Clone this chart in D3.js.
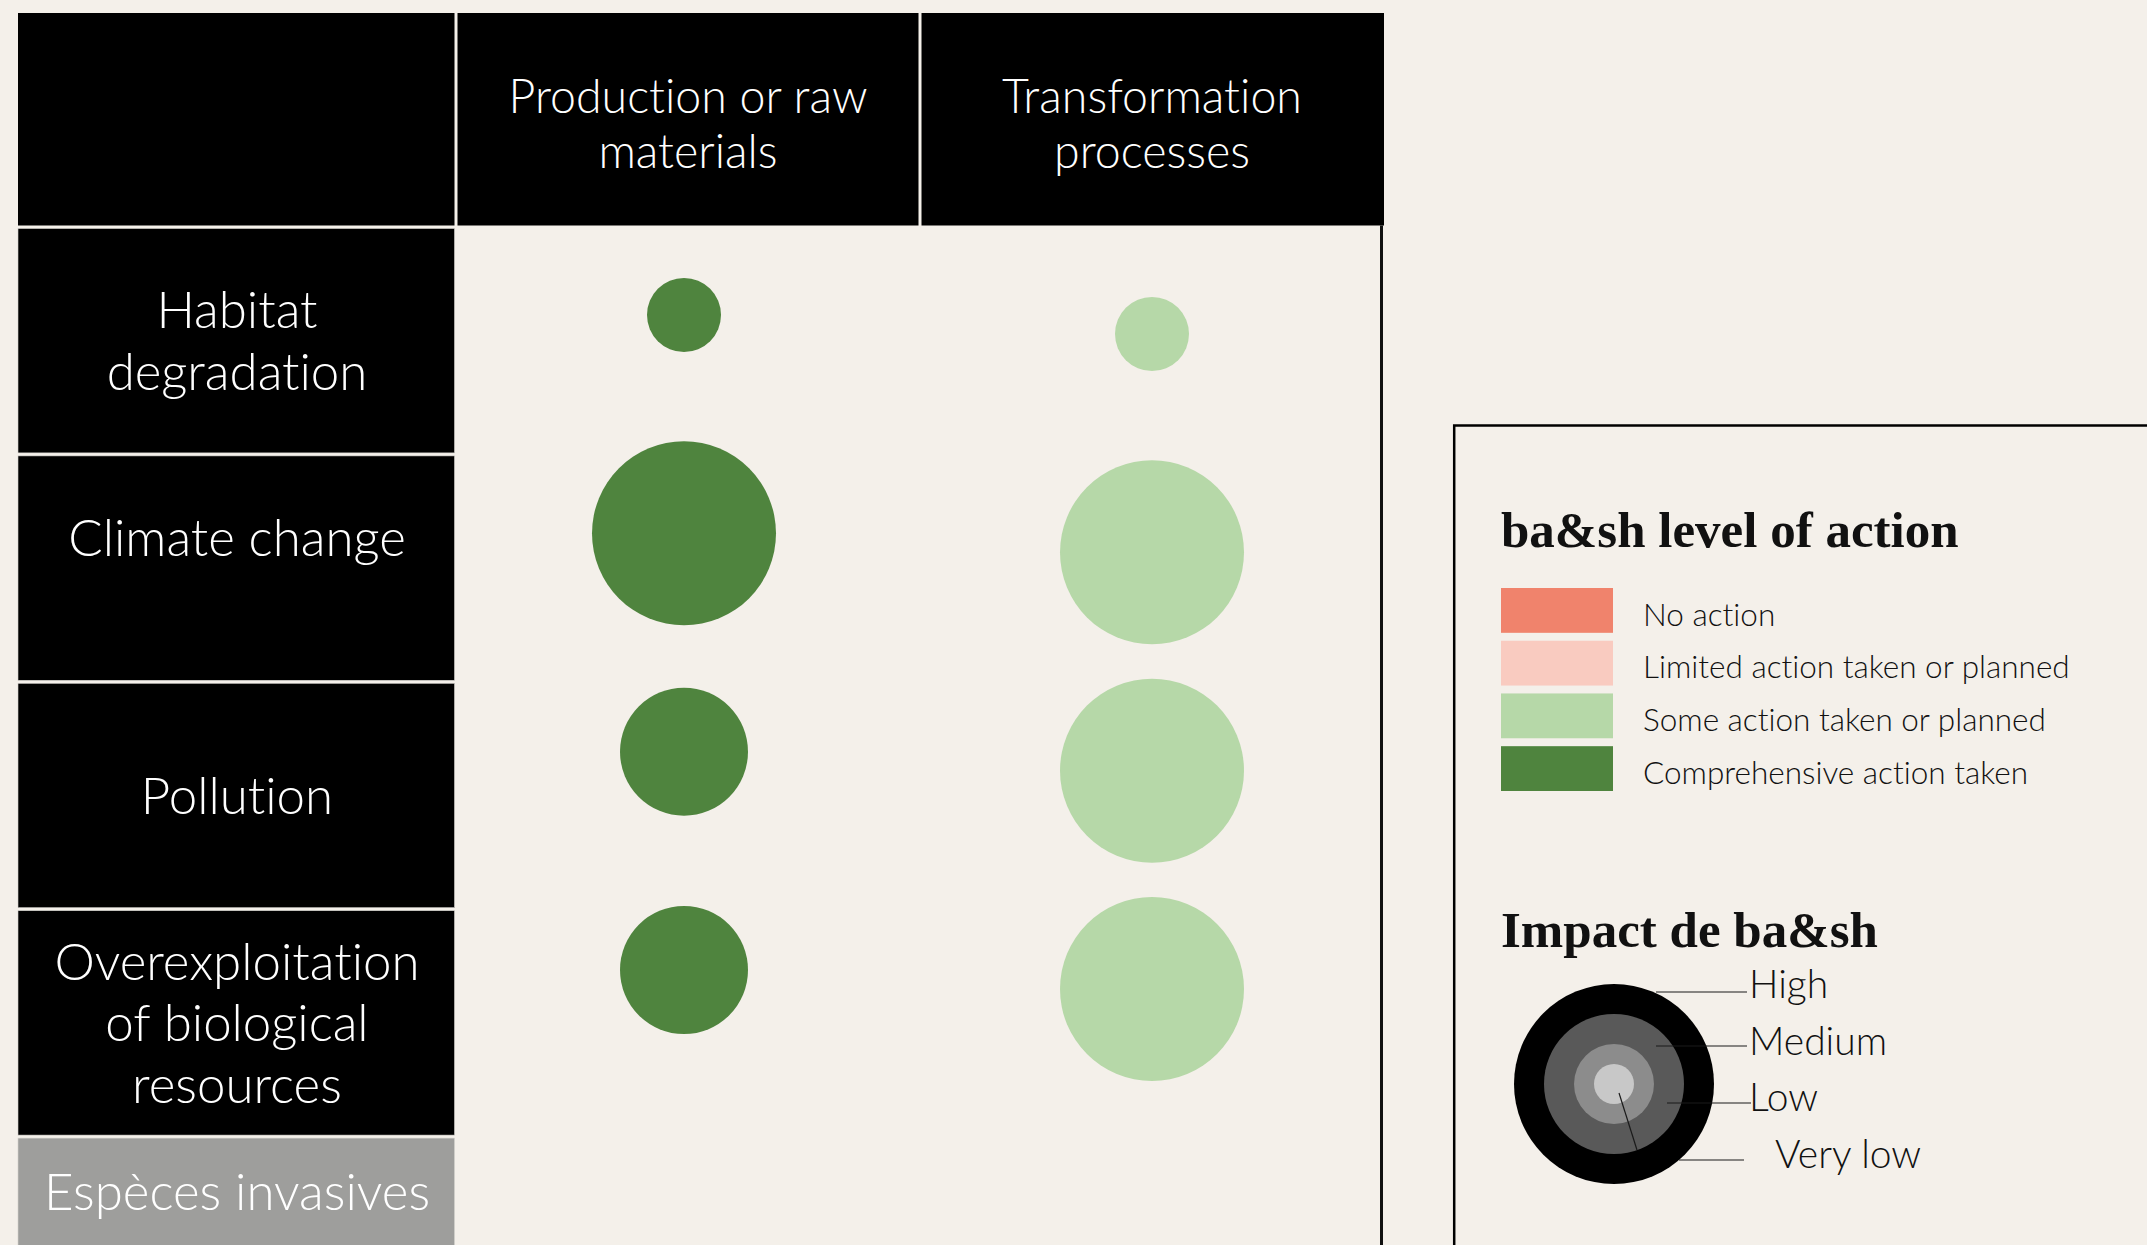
<!DOCTYPE html>
<html>
<head>
<meta charset="utf-8">
<script src="https://cdn.jsdelivr.net/npm/d3@7"></script>
<style>
  html, body { margin: 0; padding: 0; background: #f4f0ea; overflow: hidden; }
  svg { display: block; }
  .light { font-family: Lato, "Open Sans", sans-serif; font-weight: 300; font-variant-ligatures: none; font-feature-settings: "liga" 0; }
  .serif { font-family: "Liberation Serif", "DejaVu Serif", serif; font-weight: 700; }
</style>
</head>
<body>
<div class="threat-matrix"></div>
<script>
// value chain stages (columns) and threats (rows)
var stages = ["Production or raw materials", "Transformation processes"];
var stageLines = [["Production or raw", "materials"], ["Transformation", "processes"]];

var threats = [
    "Habitat degradation",
    "Climate change",
    "Pollution",
    "Overexploitation of biological resources",
    "Espèces invasives"
];
var threatLines = [
    ["Habitat", "degradation"],
    ["Climate change", ""],
    ["Pollution"],
    ["Overexploitation", "of biological", "resources"],
    ["Espèces invasives"]
];

// level of action and impact per threat, one array per stage (null = not assessed)
var productionAction = ["Comprehensive action taken", "Comprehensive action taken", "Comprehensive action taken", "Comprehensive action taken", null];
var productionImpact = ["Low", "High", "Medium", "Medium", null];
var transformationAction = ["Some action taken or planned", "Some action taken or planned", "Some action taken or planned", "Some action taken or planned", null];
var transformationImpact = ["Low", "High", "High", "High", null];

var actionLevels = ["No action", "Limited action taken or planned", "Some action taken or planned", "Comprehensive action taken"];
var impactLevels = ["High", "Medium", "Low", "Very low"];

(function() {
    var width = 2147, height = 1245;
    var bg = "#f4f0ea";

    var svg = d3.select(".threat-matrix").append("svg")
        .attr("width", width)
        .attr("height", height);

    svg.append("rect")
        .attr("width", width)
        .attr("height", height)
        .attr("fill", bg);

    var actionColor = d3.scaleOrdinal()
        .domain(actionLevels)
        .range(["#f0836c", "#f9cbc0", "#b6d8a8", "#4f843e"]);

    var impactRadius = d3.scaleOrdinal()
        .domain(["Very low", "Low", "Medium", "High"])
        .range([18, 37, 64, 92]);

    // table geometry
    var tableLeft = 18, labelRight = 456, tableRight = 1384;
    var headTop = 13, headBottom = 227;
    var rowHeight = 227.4, gap = 3;

    var colX = d3.scaleBand().domain(stages).range([labelRight, tableRight]);
    var rowY = d3.scaleBand().domain(threats).range([headBottom, headBottom + threats.length * rowHeight]);

    var table = svg.append("g").classed("table", true);

    // header row
    table.append("rect")
        .attr("x", tableLeft)
        .attr("y", headTop)
        .attr("width", labelRight - tableLeft - gap / 2)
        .attr("height", headBottom - headTop - gap / 2)
        .attr("fill", "#000");

    var heads = table.selectAll(".head")
        .data(stages)
        .enter()
        .append("g")
            .classed("head", true);

    heads.append("rect")
        .attr("x", function(d) { return colX(d) + gap / 2; })
        .attr("y", headTop)
        .attr("width", function(d, i) { return colX.bandwidth() - (i == stages.length - 1 ? gap / 2 : gap); })
        .attr("height", headBottom - headTop - gap / 2)
        .attr("fill", "#000");

    function multiline(sel, lines, cx, cy, size, lh) {
        var n = lines.length;
        lines.forEach(function(line, i) {
            sel.append("text")
                .attr("class", "light")
                .attr("x", cx)
                .attr("y", cy + (i - (n - 1) / 2) * lh + size * 0.36)
                .attr("text-anchor", "middle")
                .attr("font-size", size)
                .attr("fill", "#fff")
                .text(line);
        });
    }

    heads.each(function(d, i) {
        multiline(d3.select(this), stageLines[i], colX(d) + colX.bandwidth() / 2, (headTop + headBottom) / 2 + 4, 46.5, 55);
    });

    // row header cells
    var rows = table.selectAll(".row")
        .data(threats)
        .enter()
        .append("g")
            .classed("row", true);

    rows.append("rect")
        .attr("x", tableLeft)
        .attr("y", function(d) { return rowY(d) + gap / 2; })
        .attr("width", labelRight - tableLeft - gap / 2)
        .attr("height", rowY.bandwidth() - gap)
        .attr("fill", function(d, i) { return productionAction[i] ? "#000" : "#9e9e9c"; })
        .attr("stroke", "#d4d2ce")
        .attr("stroke-width", 0.6);

    rows.each(function(d, i) {
        var top = rowY(d) + gap / 2;
        var bottom = Math.min(rowY(d) + rowY.bandwidth() - gap / 2, height);
        multiline(d3.select(this), threatLines[i], (tableLeft + labelRight) / 2, (top + bottom) / 2, 51, 61.4);
    });

    // right border of the matrix
    table.append("line")
        .attr("x1", tableRight - 2.5)
        .attr("x2", tableRight - 2.5)
        .attr("y1", headBottom - gap / 2)
        .attr("y2", height)
        .attr("stroke", "#111")
        .attr("stroke-width", 3);

    // bubbles
    var cells = [];
    threats.forEach(function(t, i) {
        if (productionAction[i]) cells.push({threat: t, stage: stages[0], action: productionAction[i], impact: productionImpact[i]});
        if (transformationAction[i]) cells.push({threat: t, stage: stages[1], action: transformationAction[i], impact: transformationImpact[i]});
    });
    var assessed = threats.filter(function(t, i) { return productionAction[i]; });

    var cx = d3.scalePoint().domain(stages).range([684, 1152]);
    var cy = d3.scalePoint().domain(assessed).range([315, 970]);
    var stageShift = d3.scaleOrdinal().domain(stages).range([0, 19]);

    svg.append("g")
        .classed("bubbles", true)
        .selectAll("circle")
        .data(cells)
        .enter()
        .append("circle")
            .attr("cx", function(d) { return cx(d.stage); })
            .attr("cy", function(d) { return cy(d.threat) + stageShift(d.stage); })
            .attr("r", function(d) { return impactRadius(d.impact); })
            .attr("fill", function(d) { return actionColor(d.action); });

    // legend box
    var legend = svg.append("g").classed("legend", true);
    legend.append("path")
        .attr("d", "M" + (width + 10) + ",425.5 H1454.2 V" + (height + 10))
        .attr("fill", "none")
        .attr("stroke", "#000")
        .attr("stroke-width", 2.5);

    legend.append("text")
        .attr("class", "serif")
        .attr("x", 1501)
        .attr("y", 547)
        .attr("font-size", 51)
        .attr("fill", "#111")
        .text("ba&sh level of action");

    var swatchY = d3.scaleBand().domain(actionLevels).range([588, 791]).paddingInner(0.15);

    var items = legend.selectAll(".item")
        .data(actionLevels)
        .enter()
        .append("g")
            .classed("item", true);

    items.append("rect")
        .attr("x", 1501)
        .attr("y", function(d) { return swatchY(d); })
        .attr("width", 112)
        .attr("height", swatchY.bandwidth())
        .attr("fill", actionColor);

    items.append("text")
        .attr("class", "light")
        .attr("x", 1643)
        .attr("y", function(d) { return swatchY(d) + swatchY.bandwidth() / 2 + 4 + 31.5 * 0.36; })
        .attr("font-size", 31.5)
        .attr("fill", "#111")
        .text(function(d) { return d; });

    legend.append("text")
        .attr("class", "serif")
        .attr("x", 1501)
        .attr("y", 947)
        .attr("font-size", 51)
        .attr("fill", "#111")
        .text("Impact de ba&sh");

    // impact rings
    var ox = 1614, oy = 1084;
    var ringRadius = d3.scaleOrdinal().domain(impactLevels).range([100, 70, 40, 20]);
    var ringFill = d3.scaleOrdinal().domain(impactLevels).range(["#000", "#595959", "#8c8c8c", "#c8c8c8"]);

    legend.selectAll(".ring")
        .data(impactLevels)
        .enter()
        .append("circle")
            .classed("ring", true)
            .attr("cx", ox)
            .attr("cy", oy)
            .attr("r", ringRadius)
            .attr("fill", ringFill);

    // leader lines, offsets from the ring centre
    var leaders = [
        [[42, -92], [133, -92]],
        [[42, -38], [133, -38]],
        [[53, 19], [137, 19]],
        [[5, 9], [23, 66]],
        [[65, 76], [130, 76]]
    ];
    legend.selectAll(".leader")
        .data(leaders)
        .enter()
        .append("line")
            .classed("leader", true)
            .attr("x1", function(d) { return ox + d[0][0]; })
            .attr("y1", function(d) { return oy + d[0][1]; })
            .attr("x2", function(d) { return ox + d[1][0]; })
            .attr("y2", function(d) { return oy + d[1][1]; })
            .attr("stroke", "#1a1a1a")
            .attr("stroke-width", 1.2);

    var labelY = d3.scalePoint().domain(impactLevels).range([oy - 86, oy + 84]);
    legend.selectAll(".impact-label")
        .data(impactLevels)
        .enter()
        .append("text")
            .attr("class", "light")
            .attr("x", function(d) { return ox + (d == "Very low" ? 161 : 135); })
            .attr("y", labelY)
            .attr("font-size", 39)
            .attr("fill", "#111")
            .text(function(d) { return d; });
})();
</script>
</body>
</html>
